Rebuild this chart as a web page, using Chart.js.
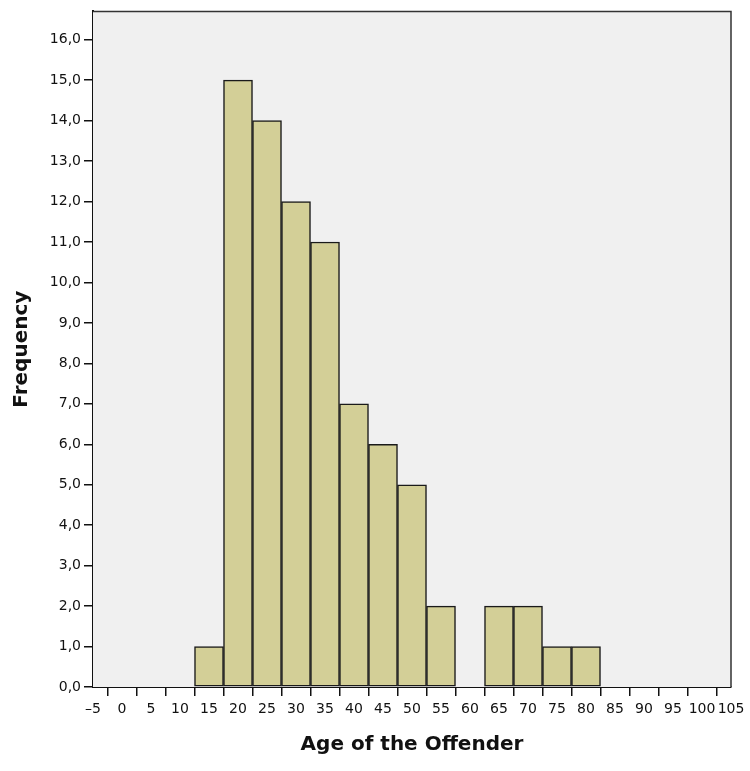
<!DOCTYPE html>
<html>
<head>
<meta charset="utf-8">
<script src="https://cdn.jsdelivr.net/npm/chart.js@4/dist/chart.umd.min.js"></script>
<style>
html,body{margin:0;padding:0;background:#fff;}
#wrap{width:750px;height:771px;}
</style>
</head>
<body>
<div id="wrap"><canvas id="c" width="750" height="771"></canvas></div>
<script>
const binCenters = [15, 20, 25, 30, 35, 40, 45, 50, 55, 60, 65, 70, 75, 80];
const frequencies = [1, 15, 14, 12, 11, 7, 6, 5, 2, 0, 2, 2, 1, 1];
const xTickValues = [-5,0,5,10,15,20,25,30,35,40,45,50,55,60,65,70,75,80,85,90,95,100,105];
const yTickValues = [0,1,2,3,4,5,6,7,8,9,10,11,12,13,14,15,16];
const xTitle = 'Age of the Offender';
const yTitle = 'Frequency';

const plotBg = {
  id: 'plotBg',
  beforeDatasetsDraw(chart) {
    const {ctx, chartArea: a} = chart;
    ctx.save();
    ctx.fillStyle = '#F0F0F0';
    ctx.fillRect(a.left, a.top, a.right - a.left, a.bottom - a.top);
    ctx.restore();
  },
  afterDatasetsDraw(chart) {
    const {ctx, chartArea: a} = chart;
    ctx.save();
    ctx.strokeStyle = '#333';
    ctx.lineWidth = 1.5;
    ctx.beginPath();
    ctx.moveTo(a.left, a.top);
    ctx.lineTo(a.right, a.top);
    ctx.lineTo(a.right, a.bottom);
    ctx.stroke();
    ctx.restore();
  }
};

const font = {family: '"DejaVu Sans", sans-serif', size: 14};
const titleFont = {family: '"DejaVu Sans", sans-serif', size: 20, weight: 'bold'};
new Chart(document.getElementById('c'), {
  type: 'bar',
  data: {
    datasets: [{
      data: binCenters.map((x, i) => ({x: x, y: frequencies[i]})),
      backgroundColor: '#D3CF97',
      borderColor: '#1a1a1a',
      borderWidth: 1.5,
      barPercentage: 1,
      categoryPercentage: 1,
      borderSkipped: false
    }]
  },
  options: {
    responsive: false,
    animation: false,
    devicePixelRatio: 1,
    layout: {padding: {top: 11, right: 19, left: 0, bottom: 0}},
    plugins: {legend: {display: false}, tooltip: {enabled: false}},
    scales: {
      x: {
        type: 'linear',
        min: -5, max: 105,
        offset: false,
        afterBuildTicks: (s) => { s.ticks = xTickValues.map(v => ({value: v})); },
        afterFit: (s) => { s.height = 84; },
        ticks: {
          autoSkip: false, maxRotation: 0, minRotation: 0,
          color: '#111', font: font, padding: 5,
          callback: (v) => (v < 0 ? '\u2013' + Math.abs(v) : String(v))
        },
        grid: {display: true, drawOnChartArea: false, drawTicks: true, tickLength: 9, color: '#111', lineWidth: 1.5},
        border: {display: true, color: '#111', width: 2},
        title: {display: true, text: xTitle, color: '#111', font: titleFont, padding: {top: 0, bottom: 14}}
      },
      y: {
        type: 'linear',
        min: 0, max: 16.7,
        afterBuildTicks: (s) => { s.ticks = yTickValues.map(v => ({value: v})); },
        afterFit: (s) => { s.width = 93; },
        ticks: {
          color: '#111', font: font, padding: 3,
          callback: (v) => v.toFixed(1).replace('.', ',')
        },
        grid: {display: true, drawOnChartArea: false, drawTicks: true, tickLength: 9, color: '#111', lineWidth: 1.5},
        border: {display: true, color: '#111', width: 2},
        title: {display: true, text: yTitle, color: '#111', font: titleFont, padding: {top: 10, bottom: 0}}
      }
    }
  },
  plugins: [plotBg]
});
</script>
</body>
</html>
